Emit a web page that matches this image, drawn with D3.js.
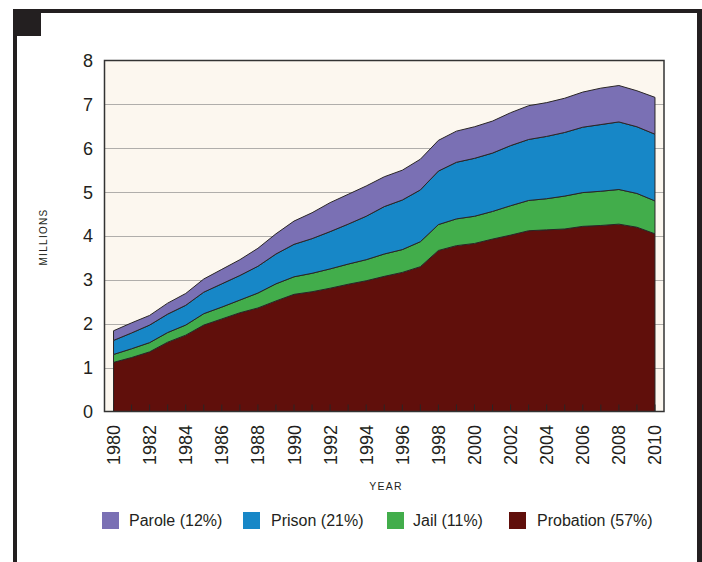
<!DOCTYPE html>
<html>
<head>
<meta charset="utf-8">
<script src="https://cdn.jsdelivr.net/npm/d3@7"></script>
<style>
    body { margin: 0; background: #fff; font-family: "Liberation Sans", Arial, sans-serif; }
    svg { display: block; }
</style>
</head>
<body>
<div id="chart"></div>
<script>
// values in millions
var years = d3.range(1980, 2011);
var probation = [1.12, 1.23, 1.36, 1.58, 1.74, 1.97, 2.11, 2.25, 2.36, 2.52, 2.67, 2.73, 2.81, 2.90, 2.98, 3.08, 3.17, 3.30, 3.67, 3.78, 3.83, 3.93, 4.02, 4.12, 4.14, 4.16, 4.22, 4.24, 4.27, 4.20, 4.05];
var jail = [0.18, 0.20, 0.21, 0.22, 0.23, 0.26, 0.27, 0.29, 0.34, 0.39, 0.40, 0.42, 0.44, 0.46, 0.48, 0.51, 0.52, 0.57, 0.59, 0.61, 0.62, 0.63, 0.67, 0.69, 0.71, 0.75, 0.77, 0.78, 0.79, 0.77, 0.75];
var prison = [0.32, 0.36, 0.40, 0.42, 0.45, 0.49, 0.53, 0.56, 0.61, 0.68, 0.74, 0.79, 0.85, 0.91, 0.99, 1.08, 1.13, 1.18, 1.22, 1.29, 1.32, 1.33, 1.37, 1.39, 1.42, 1.45, 1.49, 1.52, 1.54, 1.52, 1.52];
var parole = [0.22, 0.23, 0.22, 0.25, 0.27, 0.30, 0.33, 0.36, 0.41, 0.46, 0.53, 0.59, 0.66, 0.68, 0.69, 0.68, 0.68, 0.70, 0.70, 0.71, 0.72, 0.73, 0.75, 0.77, 0.77, 0.78, 0.80, 0.83, 0.83, 0.82, 0.84];

var seriesKeys = ["probation", "jail", "prison", "parole"];
var legendLabels = ["Parole (12%)", "Prison (21%)", "Jail (11%)", "Probation (57%)"];
var legendKeys = ["parole", "prison", "jail", "probation"];
var yTicks = [0, 1, 2, 3, 4, 5, 6, 7, 8];
var xTickYears = d3.range(1980, 2011, 2);

var colors = {
    parole: "#7a70b4",
    prison: "#1787c7",
    jail: "#42ad4b",
    probation: "#600f0b"
};

var WIDTH = 702, HEIGHT = 562;
var PLOT = {left: 104.5, right: 664, top: 60.5, bottom: 411.5};

var rows = years.map(function(y, i) {
    return {year: y, probation: probation[i], jail: jail[i], prison: prison[i], parole: parole[i]};
});

var svg = d3.select("#chart").append("svg")
    .attr("width", WIDTH)
    .attr("height", HEIGHT);

// outer frame
svg.append("rect").attr("x", 13).attr("y", 9).attr("width", 689).attr("height", 4).attr("fill", "#231f20");
svg.append("rect").attr("x", 13).attr("y", 9).attr("width", 4).attr("height", 553).attr("fill", "#231f20");
svg.append("rect").attr("x", 697).attr("y", 9).attr("width", 5).attr("height", 553).attr("fill", "#231f20");
svg.append("rect").attr("x", 13).attr("y", 9).attr("width", 28).attr("height", 27).attr("fill", "#231f20");

var x = d3.scaleLinear()
    .domain([1979.5, 2010.5])
    .range([PLOT.left, PLOT.right]);

var y = d3.scaleLinear()
    .domain([0, 8])
    .range([PLOT.bottom, PLOT.top]);

// plot background
svg.append("rect")
    .attr("x", PLOT.left)
    .attr("y", PLOT.top)
    .attr("width", PLOT.right - PLOT.left)
    .attr("height", PLOT.bottom - PLOT.top)
    .attr("fill", "#fcf7ef");

// gridlines
svg.append("g")
    .selectAll("line")
    .data(yTicks.slice(1, -1))
    .enter()
    .append("line")
    .attr("x1", PLOT.left)
    .attr("x2", PLOT.right)
    .attr("y1", function(d) { return Math.round(y(d)) + 0.5; })
    .attr("y2", function(d) { return Math.round(y(d)) + 0.5; })
    .attr("stroke", "#b0aeab")
    .attr("stroke-width", 1.2);

// stacked areas
var stack = d3.stack().keys(seriesKeys);
var layers = stack(rows);

var area = d3.area()
    .x(function(d) { return x(d.data.year); })
    .y0(function(d) { return y(d[0]); })
    .y1(function(d) { return y(d[1]); });

svg.append("g")
    .selectAll("path")
    .data(layers)
    .enter()
    .append("path")
    .attr("d", area)
    .attr("fill", function(d) { return colors[d.key]; })
    .attr("stroke", "#2a2626")
    .attr("stroke-width", 1)
    .attr("stroke-linejoin", "round");

// year ticks (inward)
svg.append("g")
    .selectAll("line")
    .data(years)
    .enter()
    .append("line")
    .attr("x1", function(d) { return x(d); })
    .attr("x2", function(d) { return x(d); })
    .attr("y1", PLOT.bottom)
    .attr("y2", PLOT.bottom - 7)
    .attr("stroke", "#2a2626")
    .attr("stroke-width", 1);

// plot border
svg.append("rect")
    .attr("x", PLOT.left)
    .attr("y", PLOT.top)
    .attr("width", PLOT.right - PLOT.left)
    .attr("height", PLOT.bottom - PLOT.top)
    .attr("fill", "none")
    .attr("stroke", "#333")
    .attr("stroke-width", 1.5);

// y axis labels
svg.append("g")
    .selectAll("text")
    .data(yTicks)
    .enter()
    .append("text")
    .attr("x", 93)
    .attr("y", function(d) { return y(d); })
    .attr("dy", "0.36em")
    .attr("text-anchor", "end")
    .attr("font-size", "18px")
    .attr("fill", "#231f20")
    .text(function(d) { return d; });

// x axis labels, rotated
svg.append("g")
    .selectAll("text")
    .data(xTickYears)
    .enter()
    .append("text")
    .attr("transform", function(d) { return "translate(" + (x(d) + 6.5) + ",425) rotate(-90)"; })
    .attr("text-anchor", "end")
    .attr("font-size", "18px")
    .attr("fill", "#231f20")
    .text(function(d) { return d; });

svg.append("text")
    .attr("x", 386)
    .attr("y", 490)
    .attr("text-anchor", "middle")
    .attr("font-size", "10.5px")
    .attr("letter-spacing", "1.2px")
    .attr("fill", "#231f20")
    .text("YEAR");

svg.append("text")
    .attr("transform", "translate(47,237) rotate(-90)")
    .attr("text-anchor", "middle")
    .attr("font-size", "10px")
    .attr("letter-spacing", "1.3px")
    .attr("fill", "#231f20")
    .text("MILLIONS");

// legend
var legendX = [102, 243, 387, 509];
var legend = svg.append("g")
    .selectAll("g")
    .data(legendKeys)
    .enter()
    .append("g")
    .attr("transform", function(d, i) { return "translate(" + legendX[i] + ",512)"; });

legend.append("rect")
    .attr("width", 17)
    .attr("height", 17)
    .attr("fill", function(d) { return colors[d]; });

legend.append("text")
    .attr("x", function(d, i) { return i === 0 ? 27 : (i === 1 ? 28 : (i === 2 ? 26 : 28)); })
    .attr("y", 14)
    .attr("font-size", "16px")
    .attr("fill", "#231f20")
    .text(function(d, i) { return legendLabels[i]; });
</script>
</body>
</html>
